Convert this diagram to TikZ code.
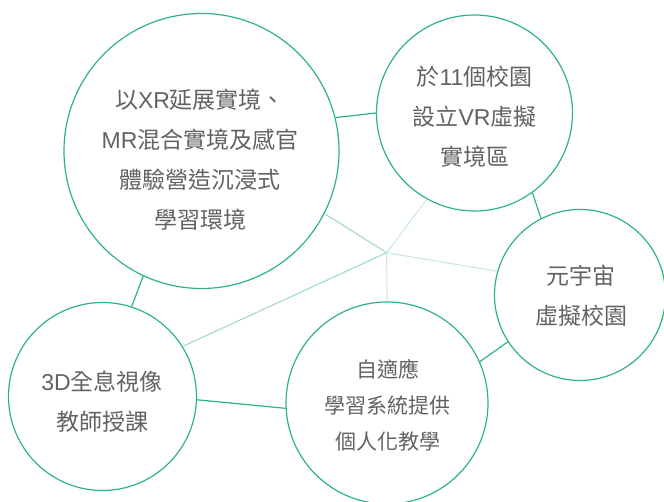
\documentclass[tikz,border=0pt]{standalone}
\usepackage{fontspec}
\setmainfont{Noto Sans CJK TC}
\newfontfamily\latf{Liberation Sans}
\newcommand{\lt}[1]{{\latf #1}}
\begin{document}
\begin{tikzpicture}[x=1pt,y=-1pt,
  bubble/.style={circle,draw=cgreen,line width=1.2pt,inner sep=0pt},
  link/.style={draw=cgreen,line width=1.2pt},
  hubA/.style={draw=hubmid,line width=1.1pt},
  hubB/.style={draw=hublight,line width=1.1pt},
  txt/.style={align=center,text=tgray,inner sep=0pt,font=\fontsize{23}{40}\selectfont},
  txts/.style={align=center,text=tgray,inner sep=0pt,font=\fontsize{21}{36}\selectfont}]
\definecolor{cgreen}{HTML}{2EB47E}
\definecolor{hubmid}{HTML}{A3DBBF}
\definecolor{hublight}{HTML}{CBE9D8}
\definecolor{tgray}{HTML}{626262}
\useasboundingbox (0,0) rectangle (664,502);
% circles
\node[bubble,minimum size=275pt] (big) at (201.5,151) {};
\node[bubble,minimum size=196pt] (tr) at (474.5,113) {};
\node[bubble,minimum size=171pt] (rt) at (580,295) {};
\node[bubble,minimum size=188pt] (td) at (102.5,396.5) {};
\node[bubble,minimum size=202pt] (ad) at (387,403) {};
\coordinate (hub) at (386.7,252.7);
% hub lines
\draw[hubA] (hub) -- (big.-27.5);
\draw[hubA] (hub) -- (td.32);
\draw[hubB] (hub) -- (tr.-119.3);
\draw[hubB] (hub) -- (rt.164.8);
\draw[hubB] (hub) -- (ad.90);
% ring links
\draw[link] (big.14.1) -- (tr.180);
\draw[link] (tr.-54.4) -- (rt.117.3);
\draw[link] (rt.213.7) -- (ad.24.2);
\draw[link] (ad.183.2) -- (td.-2.7);
\draw[link] (td.72.2) -- (big.-115.5);
% texts
\node[txt] (tbig) at (200,159.3) {以\lt{XR}延展實境、\\\lt{MR}混合實境及感官\\體驗營造沉浸式\\學習環境};
\node[txt] (ttr) at (474.5,116.7) {於\lt{11}個校園\\設立\lt{VR}虛擬\\實境區};
\node[txt] (trt) at (581,296) {元宇宙\\虛擬校園};
\node[txt] (ttd) at (102,402) {\lt{3D}全息視像\\教師授課};
\node[txts] (tad) at (387.5,405) {自適應\\學習系統提供\\個人化教學};
\end{tikzpicture}
\end{document}
